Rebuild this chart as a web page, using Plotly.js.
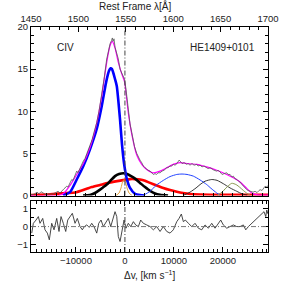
<!DOCTYPE html>
<html><head><meta charset="utf-8">
<script src="https://cdn.plot.ly/plotly-3.0.1.min.js"></script>
<style>html,body{margin:0;padding:0;background:#fff}#plot{width:283px;height:283px}</style>
</head><body><div id="plot"></div>
<script>
// Spectrum (velocity km/s, flux)
const specV = [-19180,-18560,-17950,-17540,-17130,-16720,-16110,-15500,-14880,-14270,-13660,-13250,-12840,-12440,-11880,-11620,-11210,-10860,-10600,-10190,-9840,-9580,-9170,-8760,-8490,-8150,-7740,-7430,-7130,-6720,-6310,-5760,-5290,-4740,-4270,-3720,-3450,-3040,-2740,-2570,-2430,-2230,-2020,-1720,-1350,-1000,-690,-330,-80,220,430,690,1040,1390,1650,1960,2410,2780,3080,3430,3760,4100,4450,4720,5130,5430,5800,6150,6450,6760,7170,7580,7980,8540,8800,9210,9520,9880,10230,10640,11050,11250,11660,12070,12620,12890,13290,13700,14110,14660,14930,15340,15740,16150,16700,16970,17380,17790,18200,18750,19010,19420,19830,20240,20790,21060,21470,21870,22140,22480,22890,23200,23500,23910,24320,24870,25140,25550,25890,26160,26570,26980,27390,27590,28000,28300,28610,28960,29220];
const specF = [0.1,0.15,0.4,0.2,0.45,0.3,0.1,0.2,0.15,0.3,0.5,0.3,0.6,0.8,1.1,1.0,1.5,1.9,1.8,2.4,2.9,2.7,3.3,3.8,4.1,4.4,5.0,5.4,5.9,6.6,7.5,8.65,10.0,11.8,13.8,16.2,17.0,18.0,18.4,18.7,18.3,18.6,17.6,17.0,16.2,15.0,14.6,14.2,13.8,12.6,11.5,9.8,8.5,7.5,6.6,5.8,5.0,4.5,4.2,3.9,3.5,3.3,3.1,3.0,2.9,2.7,2.5,2.6,2.5,2.7,2.7,2.9,3.0,3.3,3.3,3.5,3.5,3.7,3.6,3.8,4.2,4.1,3.8,3.9,3.7,3.8,3.6,3.8,3.6,3.7,3.5,3.6,3.4,3.5,3.3,3.2,3.3,3.1,3.0,2.9,3.0,2.8,2.5,2.6,2.7,2.5,2.5,2.2,2.3,2.0,1.9,1.7,1.6,1.3,1.0,0.7,0.6,0.5,0.45,0.4,0.5,0.35,0.6,0.7,0.6,0.8,1.1,1.0,1.2];
// Total fit
const fitV = [-19180,-13500,-12440,-11210,-9840,-8490,-7130,-5760,-4740,-3720,-3040,-2570,-2020,-1350,-690,-80,220,690,1390,2410,3430,4450,5800,7170,8540,9880,11250,12620,14660,16700,18750,20790,22140,23500,24870,25890,27000,29220];
const fitF = [0,0,0.3,1.2,2.5,3.8,5.7,8.6,11.8,15.8,17.8,18.3,17.5,15.8,14.5,13.5,12.2,9.8,7.3,4.8,3.7,3.1,2.7,2.9,3.3,3.7,3.9,3.8,3.7,3.4,3.0,2.5,2.1,1.6,0.85,0.3,0.08,0.05];
// Broad blue component
const blueV = [-12640,-11210,-9840,-8490,-7130,-5760,-4740,-3860,-3250,-2940,-2640,-2020,-1670,-1000,-590,-180,370,1040,2060,3080,4100];
const blueF = [0,0.4,1.9,3.5,5.5,7.9,10.6,13.4,14.8,15.1,15.0,13.8,13.0,9.0,6.0,3.8,2.0,0.9,0.2,0.05,0];
// Black thick component
const blkV = [-8560,-7130,-6110,-5080,-3720,-3040,-2020,-1200,-330,430,1250,2060,3080,4100,5130,6150,7170,8800];
const blkF = [0,0.05,0.3,0.7,1.3,1.7,2.3,2.55,2.65,2.55,2.3,2.0,1.5,1.0,0.55,0.25,0.1,0];
// Red broad component
const redV = [-19180,-15290,-11880,-10190,-7800,-6780,-5080,-3390,-650,1040,2060,3080,4100,5130,6490,7840,9210,10580,11860,13290,15340,17380,29220];
const redF = [0.05,0.15,0.3,0.35,0.8,1.0,1.25,1.5,1.8,1.95,1.95,1.9,1.75,1.5,1.2,0.9,0.65,0.45,0.3,0.18,0.12,0.1,0.1];
// Narrow orange component
const oraV = [-1820,-1200,-800,-490,-180,120,430,840,1450];
const oraF = [0,0.3,0.9,1.6,1.9,1.6,0.9,0.3,0];
// Thin blue component
const tbV = [3700,5130,6350,7840,9210,10580,11660,12680,13970,15340,16700,17580,18750,19420];
const tbF = [0,0.5,1.2,1.8,2.25,2.5,2.55,2.5,2.3,1.85,1.3,0.85,0.3,0.05];
// Thin black component
const tkV = [11860,13290,14520,15340,16360,17730,18810,20100,21470,22840,23910,24930];
const tkF = [0,0.4,0.9,1.3,1.7,1.9,1.8,1.4,0.9,0.5,0.2,0.05];
// Olive component
const olV = [18810,19830,20650,21810,22690,23500,24180,24930,25550];
const olF = [0,0.4,0.9,1.45,1.3,0.95,0.6,0.25,0.05];
// Residuals
const resV = [-19030,-18700,-18150,-17680,-17340,-16790,-16320,-15840,-15440,-14950,-14480,-13930,-13460,-13050,-12580,-12090,-11680,-11210,-10740,-10190,-9720,-9170,-8700,-8290,-7800,-7270,-6780,-6310,-5760,-5350,-4880,-4410,-3860,-3390,-2900,-2490,-2020,-1670,-1350,-1000,-530,-180,220,690,1180,1720,2200,2740,3220,3760,4450,5130,5800,6490,7170,7840,8540,9210,9880,10580,11050,11520,11930,12340,12950,13640,14310,14990,15680,16360,17030,17720,18400,19070,19560,20090,20790,21460,22140,22830,23500,24180,24670,25200,25890,26570,27240,27930,28400,28750,28960,29200];
const resR = [-0.36,0.18,0.36,0.55,0.18,0.45,-0.18,-0.36,-0.73,0.18,-0.18,0.45,-0.27,0.55,0.18,-0.27,0.36,0.58,0.73,0.18,0.45,0,-0.18,0,0.09,-0.04,0.18,0,-0.36,0.18,0.36,0,0.27,0.45,0,0.36,0.82,0.55,-0.55,-0.82,-0.18,0.36,-0.09,0.18,0,0.27,0.09,0,0.36,0.18,0.09,0,-0.18,0,-0.27,0,-0.27,-0.36,-0.18,0.27,0.45,0.69,0.27,0.36,0.18,0,0.18,-0.09,-0.18,0.09,-0.09,0.18,-0.09,0.18,0.36,0.09,-0.09,0,0.09,0,0,0.09,-0.18,0,0.18,0.36,0.55,0.73,0.82,0.55,0.91,0.7];
const topTicks = [1450,1500,1550,1600,1650,1700];
const botTicks = [-10000,0,10000,20000];
const botLabels = ['\u221210000','0','10000','20000'];

const F = {family:'Liberation Sans, Arial, sans-serif', size:9.5, color:'#222'};
const T = (x,y,c,w,xa,ya,sh)=>({x:x,y:y,type:'scatter',mode:'lines',xaxis:xa||'x3',yaxis:ya||'y',line:{color:c,width:w,shape:sh||'spline',smoothing:0.6},hoverinfo:'skip',showlegend:false});
const data = [
  T(redV,redF,'#ff0000',2.6),
  T(blkV,blkF,'#000000',2.6),
  T(blueV,blueF,'#0000ff',2.6),
  T(oraV,oraF,'#e0a040',1),
  T(tbV,tbF,'#2040ff',1),
  T(tkV,tkF,'#202020',0.9),
  T(olV,olF,'#8a9a50',1),
  T(fitV,fitF,'#ff00ff',1.2),
  T(specV,specF,'#555555',0.8,null,null,'linear'),
  T(resV,resR,'#333333',0.9,'x','y2','linear'),
  {x:topTicks,y:[0,0,0,0,0,0],xaxis:'x2',yaxis:'y',type:'scatter',mode:'markers',marker:{opacity:0},hoverinfo:'skip',showlegend:false}
];
const ax = {showline:true,linecolor:'#000',linewidth:1,ticks:'inside',tickcolor:'#000',ticklen:5,showgrid:false,zeroline:false,tickfont:F};
const mn = (d)=>({dtick:d,ticklen:3,ticks:'inside',tickcolor:'#000'});
const layout = {
  width:283,height:283,margin:{l:31,r:15,t:27,b:31},paper_bgcolor:'#fff',plot_bgcolor:'#fff',
  xaxis:Object.assign({},ax,{anchor:'y2',range:[-19180,29212],tickvals:botTicks,ticktext:botLabels,mirror:'ticks',minor:mn(1000)}),
  xaxis3:Object.assign({},ax,{anchor:'y',matches:'x',showticklabels:false,tickvals:botTicks,minor:mn(2000)}),
  xaxis2:Object.assign({},ax,{anchor:'y',overlaying:'x3',side:'top',range:[1450,1700],tickvals:topTicks,minor:mn(10)}),
  yaxis:Object.assign({},ax,{domain:[0.251,1],anchor:'x3',range:[0,20],dtick:5,mirror:'ticks',minor:mn(1)}),
  yaxis2:Object.assign({},ax,{domain:[0,0.226],anchor:'x',range:[-1.4,1.4],tickvals:[-1,0,1],ticktext:['\u22121','0','1'],mirror:'ticks',minor:mn(0.5)}),
  shapes:[
    {type:'line',xref:'x3',yref:'y domain',x0:0,x1:0,y0:0,y1:1,line:{color:'#444',width:1,dash:'5px,2px,1px,2px'}},
    {type:'line',xref:'x',yref:'y2 domain',x0:0,x1:0,y0:0,y1:1,line:{color:'#444',width:1,dash:'5px,2px,1px,2px'}},
    {type:'line',xref:'x domain',yref:'y2',x0:0,x1:1,y0:0,y1:0,line:{color:'#777',width:1,dash:'5px,2px,1px,2px'}}
  ],
  annotations:[
    {text:'CIV',xref:'paper',yref:'paper',x:0.1,y:0.91,xanchor:'left',yanchor:'middle',showarrow:false,font:{family:F.family,size:10,color:'#222'}},
    {text:'HE1409+0101',xref:'paper',yref:'paper',x:0.955,y:0.91,xanchor:'right',yanchor:'middle',showarrow:false,font:{family:F.family,size:10,color:'#222'}},
    {text:'Rest Frame λ[Å]',xref:'paper',yref:'paper',x:0.437,y:1,yshift:21,xanchor:'center',yanchor:'middle',showarrow:false,font:{family:F.family,size:10,color:'#222'}},
    {text:'Δv, [km s<sup>−1</sup>]',xref:'paper',yref:'paper',x:0.5,y:0,yshift:-23,xanchor:'center',yanchor:'middle',showarrow:false,font:{family:F.family,size:10,color:'#222'}}
  ]
};
Plotly.newPlot('plot',data,layout,{staticPlot:true,displayModeBar:false});
</script></body></html>
